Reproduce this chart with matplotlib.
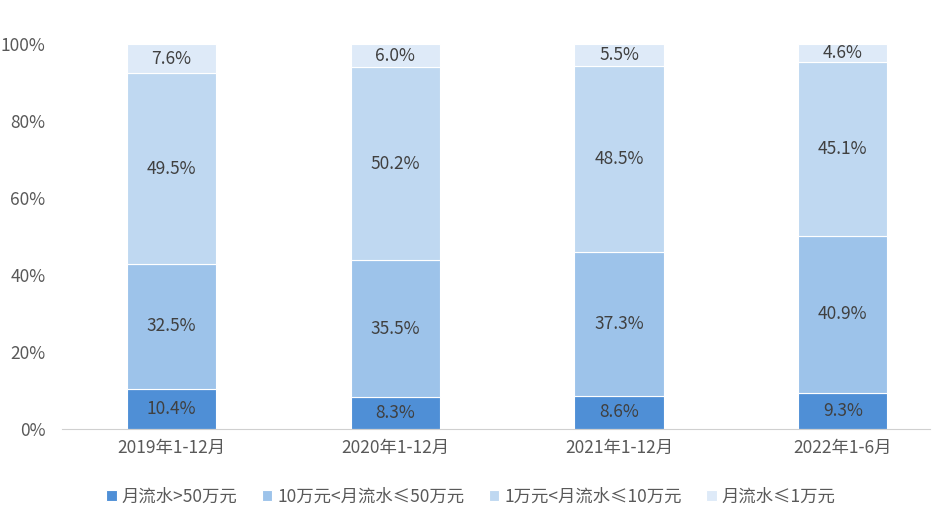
import matplotlib
matplotlib.use('Agg')
import matplotlib.pyplot as plt
import numpy as np

plt.rcParams['font.family'] = ['Noto Sans CJK SC', 'DejaVu Sans']

categories = ['2019年1-12月', '2020年1-12月', '2021年1-12月', '2022年1-6月']
series_names = ['月流水>50万元', '10万元<月流水≤50万元', '1万元<月流水≤10万元', '月流水≤1万元']
above_50 = [10.4, 8.3, 8.6, 9.3]
from_10_to_50 = [32.5, 35.5, 37.3, 40.9]
from_1_to_10 = [49.5, 50.2, 48.5, 45.1]
below_1 = [7.6, 6.0, 5.5, 4.6]
y_ticks = [0, 20, 40, 60, 80, 100]

colors = ['#4f8fd6', '#9dc3ea', '#bfd8f1', '#deeaf8']

fig = plt.figure(figsize=(9.42, 5.14), dpi=100)
ax = fig.add_axes([62 / 942, 85 / 514, 868 / 942, 385 / 514])

x = np.arange(len(categories))
bottom = np.zeros(len(categories))
for vals, name, c in zip([above_50, from_10_to_50, from_1_to_10, below_1], series_names, colors):
    vals = np.array(vals)
    ax.bar(x, vals, 0.4, bottom=bottom, color=c, edgecolor='white', linewidth=0.8, label=name)
    for xi, b, v in zip(x, bottom, vals):
        ax.text(xi, b + v / 2, f'{v:.1f}%', ha='center', va='center', fontsize=12.5, color='#404040')
    bottom += vals

ax.set_xlim(-0.49, 3.39)
ax.set_ylim(0, 100)
ax.set_yticks(y_ticks)
ax.set_yticklabels([f'{t}%' for t in y_ticks])
ax.set_xticks(x)
ax.set_xticklabels(categories)
ax.tick_params(axis='both', length=0, labelsize=12.5, colors='#595959')
ax.tick_params(axis='y', pad=12)
ax.tick_params(axis='x', pad=7)
for side in ['top', 'right', 'left']:
    ax.spines[side].set_visible(False)
ax.spines['bottom'].set_color('#d0d0d0')

fig.legend(loc='center', bbox_to_anchor=(0.5, 17 / 514), ncol=4, frameon=False,
           fontsize=12.5, handlelength=0.6, handleheight=0.6, handletextpad=0.3, columnspacing=1.4,
           labelcolor='#595959')

fig.savefig('out.png', dpi=100)
